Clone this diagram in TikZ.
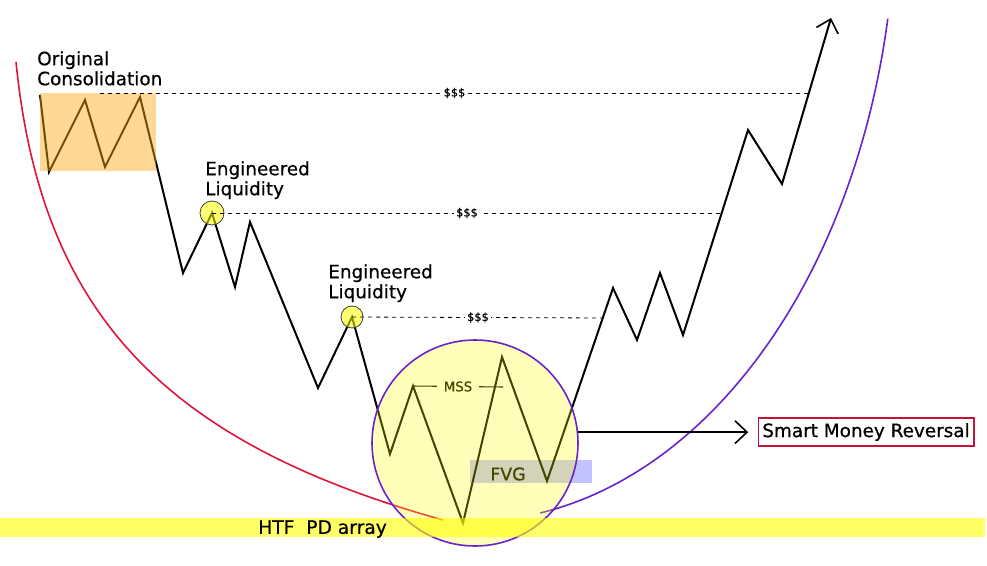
\documentclass[tikz,border=0pt]{standalone}
\usepackage{fontspec}
\setmainfont{DejaVu Sans}
\newfontfamily\notefont[FakeBold=0.6]{DejaVu Sans}
\usetikzlibrary{positioning,arrows.meta}
\definecolor{consol}{RGB}{255,168,20}
\definecolor{hiyel}{RGB}{255,255,0}
\definecolor{zoneline}{RGB}{105,35,205}
\definecolor{redcurve}{RGB}{225,20,60}
\definecolor{fvgblue}{RGB}{195,195,255}
\definecolor{boxred}{RGB}{195,20,55}

\begin{document}
\begin{tikzpicture}[x=0.75pt, y=-0.75pt, >={Straight Barb[length=9pt,width=17pt,line width=1.2pt]},
  price/.style = {line width=1.5pt, line join=miter},
  level/.style = {dash pattern=on 3pt off 3pt, line width=0.6pt},
  liq/.style = {circle, draw=black!75, line width=0.6pt, fill=hiyel, fill opacity=0.55, minimum size=18pt, inner sep=0pt},
  title/.style = {font=\notefont\fontsize{13.8}{15}\selectfont, align=left, inner sep=0pt, anchor=north west},
  cash/.style = {font=\notefont\fontsize{8.5}{9}\selectfont, fill=white, inner sep=2pt}]
  \useasboundingbox (0,0) rectangle (987,566);
  % swing points of price
  \coordinate (p0) at (40,95);
  \coordinate (p1) at (49,172);
  \coordinate (p2) at (85,100);
  \coordinate (p3) at (105,167);
  \coordinate (p4) at (140,97);
  \coordinate (p5) at (183,273);
  \coordinate (p6) at (212,213);
  \coordinate (p7) at (235,287);
  \coordinate (p8) at (250,222);
  \coordinate (p9) at (318,388);
  \coordinate (p10) at (352,317);
  \coordinate (p11) at (390,454);
  \coordinate (p12) at (413,386);
  \coordinate (p13) at (463,523);
  \coordinate (p14) at (502,357);
  \coordinate (p15) at (547,481);
  \coordinate (p16) at (613,288);
  \coordinate (p17) at (637,340);
  \coordinate (p18) at (660,273);
  \coordinate (p19) at (683,335);
  \coordinate (p20) at (748,130);
  \coordinate (p21) at (782,184);
  \coordinate (p22) at (831,18);
  % curves
  \draw[redcurve, line width=1.2pt] (16,62) .. controls (41,312) and (163,442) .. (443,520);
  \draw[zoneline, line width=1.2pt] (540.25,512.98) arc[start angle=80.5, end angle=11, x radius=425.6, y radius=621.5];
  \fill[fvgblue] (470,460) rectangle (592,483);
  \node[font=\notefont\fontsize{13}{14}\selectfont] (fvg) at (508,474) {FVG};
  % price
  \draw[price, ->] (p0) -- (p1) -- (p2) -- (p3) -- (p4) -- (p5) -- (p6) -- (p7) -- (p8) -- (p9) -- (p10)
    -- (p11) -- (p12) -- (p13) -- (p14) -- (p15) -- (p16) -- (p17) -- (p18) -- (p19) -- (p20) -- (p21) -- (p22);
  \coordinate (mss) at (503,387);
  \draw[line width=0.8pt] (p12) -- node[cash, font=\notefont\fontsize{10}{11}\selectfont, inner sep=5pt] {MSS} (mss);
  % highlighted zones
  \fill[consol, opacity=0.45] (40,93) rectangle (156,171);
  \node[circle, fill=hiyel, fill opacity=0.27, draw=zoneline, line width=1.2pt, minimum size=154.5pt, inner sep=0pt] (zone) at (475,443) {};
  \node[liq] (liq1) at (p6) {};
  \node[liq, minimum size=16.5pt] (liq2) at (p10) {};
  \fill[hiyel, opacity=0.6] (0,518) rectangle (985,537);
  % liquidity levels
  \coordinate (t0) at (100,93);
  \coordinate (t1) at (809,93);
  \coordinate (t2) at (722,213);
  \coordinate (t3) at (604,318);
  \draw[level] (t0) -- node[cash] {\$\$\$} (t1);
  \draw[level] (liq1.center) -- node[cash] {\$\$\$} (t2);
  \draw[level] (liq2.center) -- node[cash] {\$\$\$} (t3);
  % labels
  \node[title] (orig) at (37,51) {Original\\Consolidation};
  \node[title] (eng1) at (205,161) {Engineered\\Liquidity};
  \node[title] (eng2) at (328,264) {Engineered\\Liquidity};
  \node[font=\notefont\fontsize{14}{15}\selectfont, anchor=west, inner sep=0pt] (pd) at (258,529) {HTF\ \ PD array};
  \node[draw=boxred, line width=1.2pt, font=\notefont\fontsize{13.8}{15}\selectfont, inner sep=3pt, minimum width=161pt, minimum height=21pt] (smr) at (866,432) {Smart Money Reversal};
  \draw[->, line width=1.2pt, shorten >=7pt] (zone.6) -- (zone.6 -| smr.west);
\end{tikzpicture}
\end{document}
